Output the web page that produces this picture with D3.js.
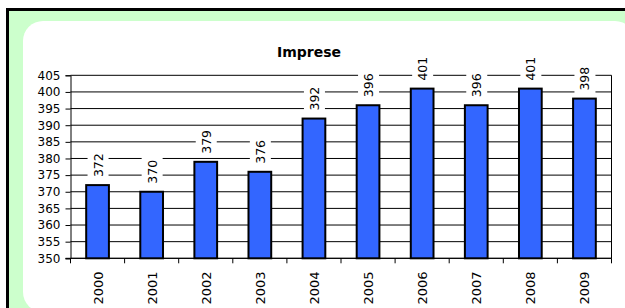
<!DOCTYPE html>
<html>
<head>
<meta charset="utf-8">
<script src="https://cdn.jsdelivr.net/npm/d3@7"></script>
<style>
  body { margin: 0; background: #fff; }
  svg { display: block; }
  text { font-family: "DejaVu Sans", Verdana, sans-serif; fill: #000; }
</style>
</head>
<body>
<div id="chart"></div>
<script>
const years = ['2000', '2001', '2002', '2003', '2004', '2005', '2006', '2007', '2008', '2009'];
const imprese = [372, 370, 379, 376, 392, 396, 401, 396, 401, 398];
const yTicks = [350, 355, 360, 365, 370, 375, 380, 385, 390, 395, 400, 405];
const title = 'Imprese';

const width = 625;
const height = 308;
const plot = { left: 70.5, right: 611.5, top: 75.3, bottom: 258.3 };

const svg = d3.select('#chart')
  .append('svg')
  .attr('width', width)
  .attr('height', height);

// frame: black border, green fill, white rounded panel
svg.append('rect')
  .attr('x', 7.5)
  .attr('y', 9.5)
  .attr('width', 700)
  .attr('height', 400)
  .style('fill', '#ccffcc')
  .style('stroke', '#000')
  .style('stroke-width', 3);

svg.append('rect')
  .attr('x', 23)
  .attr('y', 21)
  .attr('width', 612)
  .attr('height', 291)
  .attr('rx', 20)
  .attr('ry', 20)
  .style('fill', '#fff');

const x = d3.scaleBand()
  .domain(years)
  .range([plot.left, plot.right]);

const y = d3.scaleLinear()
  .domain([350, 405])
  .range([plot.bottom, plot.top]);

// gridlines
svg.append('g')
  .selectAll('line')
  .data(yTicks)
  .enter()
  .append('line')
  .attr('x1', plot.left)
  .attr('x2', plot.right)
  .attr('y1', d => y(d))
  .attr('y2', d => y(d))
  .style('stroke', '#000')
  .style('stroke-width', 1);

// right border of plot
svg.append('line')
  .attr('x1', plot.right)
  .attr('x2', plot.right)
  .attr('y1', plot.top)
  .attr('y2', plot.bottom)
  .style('stroke', '#000');

// y axis
const yAxis = svg.append('g')
  .attr('transform', `translate(${plot.left},0)`)
  .call(d3.axisLeft(y).tickValues(yTicks).tickSize(5).tickPadding(5));
yAxis.select('.domain').style('stroke', '#000');
yAxis.selectAll('.tick line').style('stroke', '#000');
yAxis.selectAll('text')
  .style('font-family', '"DejaVu Sans", Verdana, sans-serif')
  .style('font-size', '12px')
  .style('fill', '#000');

// x axis line and ticks at band edges
svg.append('line')
  .attr('x1', plot.left - 5)
  .attr('x2', plot.right)
  .attr('y1', plot.bottom)
  .attr('y2', plot.bottom)
  .style('stroke', '#000');

const edges = years.map(d => x(d)).concat([plot.right]);
svg.append('g')
  .selectAll('line')
  .data(edges)
  .enter()
  .append('line')
  .attr('x1', d => d)
  .attr('x2', d => d)
  .attr('y1', plot.bottom)
  .attr('y2', plot.bottom + 5)
  .style('stroke', '#000');

// category labels
svg.append('g')
  .selectAll('text')
  .data(years)
  .enter()
  .append('text')
  .attr('transform', d => `translate(${x(d) + x.bandwidth() / 2 + 5},271.5) rotate(-90)`)
  .style('text-anchor', 'end')
  .style('font-size', '13px')
  .text(d => d);

// bars
const barW = x.bandwidth() * 0.42;
svg.append('g')
  .selectAll('rect')
  .data(imprese)
  .enter()
  .append('rect')
  .attr('x', (d, i) => x(years[i]) + (x.bandwidth() - barW) / 2)
  .attr('y', d => y(d))
  .attr('width', barW)
  .attr('height', d => plot.bottom - y(d))
  .style('fill', '#3366ff')
  .style('stroke', '#000')
  .style('stroke-width', 2);

// value labels with white boxes
const labels = svg.append('g')
  .selectAll('g')
  .data(imprese)
  .enter()
  .append('g')
  .attr('transform', (d, i) => `translate(${x(years[i]) + x.bandwidth() / 2 + 5},${y(d) - 8}) rotate(-90)`);

labels.append('text')
  .style('font-size', '12.5px')
  .text(d => d);

labels.each(function () {
  const g = d3.select(this);
  const box = g.select('text').node().getBBox();
  g.insert('rect', 'text')
    .attr('x', box.x - 3)
    .attr('y', box.y - 3)
    .attr('width', box.width + 6)
    .attr('height', box.height + 6)
    .style('fill', '#fff');
});

// title
svg.append('text')
  .attr('x', 309)
  .attr('y', 57)
  .style('text-anchor', 'middle')
  .style('font-weight', 'bold')
  .style('font-size', '14px')
  .text(title);
</script>
</body>
</html>
